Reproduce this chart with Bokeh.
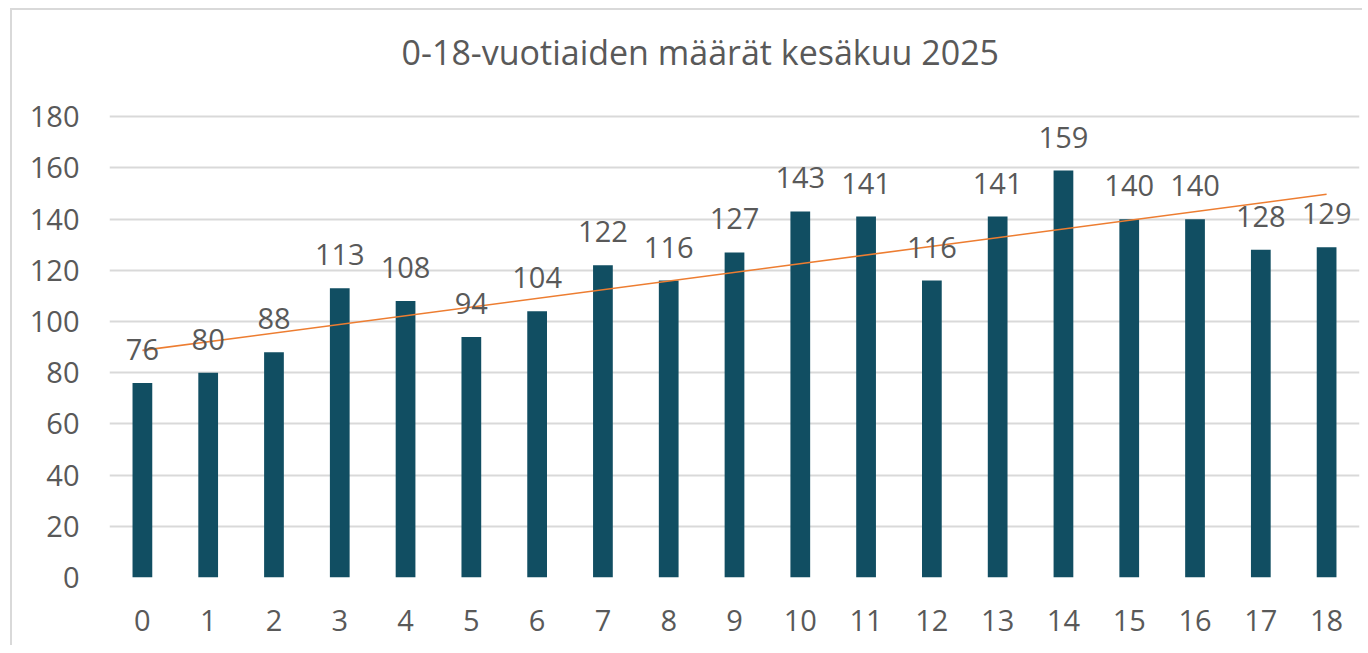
import numpy as np
from bokeh.plotting import figure
from bokeh.models import ColumnDataSource, FixedTicker, Range1d, Label
from bokeh.core.properties import value
from bokeh.embed import file_html
from bokeh.resources import INLINE

ages = list(range(19))
age_labels = [str(a) for a in ages]
counts = [76, 80, 88, 113, 108, 94, 104, 122, 116, 127, 143, 141, 116, 141, 159, 140, 140, 128, 129]
y_ticks = [0, 20, 40, 60, 80, 100, 120, 140, 160, 180]
title_text = "0-18-vuotiaiden määrät kesäkuu 2025"

FONT = "Open Sans"
TXT = "#595959"

# y range extends above the top gridline to leave room for the title inside the frame
p = figure(width=1352, height=637, output_backend="svg", toolbar_location=None,
           x_range=Range1d(-0.5, 18.5), y_range=Range1d(0, 218),
           min_border_left=97, min_border_right=5, min_border_top=9, min_border_bottom=70)
p.styles = {"margin-left": "10px", "margin-top": "8px",
            "border-left": "2px solid #d9d9d9", "border-top": "2px solid #d9d9d9"}
p.outline_line_color = None
p.background_fill_color = "white"

src = ColumnDataSource(dict(x=ages, y=counts, lbl=[str(c) for c in counts]))
p.vbar(x="x", top="y", width=0.3, source=src, fill_color="#114E62", line_color=None)

slope, intercept = np.polyfit(ages, counts, 1)
p.line([ages[0], ages[-1]], [intercept + slope * ages[0], intercept + slope * ages[-1]],
       line_color="#ED7D31", line_width=1.6)

p.text(x="x", y="y", text="lbl", source=src, text_align="center", text_baseline="bottom",
       y_offset=-23, text_font=value(FONT), text_font_size="29px", text_color=TXT)

title = Label(x=8.48, y=y_ticks[-1], text=title_text, text_align="center", text_baseline="middle",
              y_offset=65, text_font=FONT, text_font_size="34px", text_color=TXT)
p.add_layout(title)

p.xaxis.ticker = FixedTicker(ticks=ages)
p.xaxis.major_label_overrides = {a: l for a, l in zip(ages, age_labels)}
p.yaxis.ticker = FixedTicker(ticks=y_ticks)
for ax in (p.xaxis, p.yaxis):
    ax.axis_line_color = None
    ax.major_tick_line_color = None
    ax.minor_tick_line_color = None
    ax.major_label_text_font = FONT
    ax.major_label_text_font_size = "29px"
    ax.major_label_text_color = TXT
p.xaxis.major_label_standoff = 26
p.yaxis.major_label_standoff = 24

p.xgrid.grid_line_color = None
p.ygrid.grid_line_color = "#d9d9d9"
p.ygrid.grid_line_width = 2
p.ygrid.ticker = FixedTicker(ticks=y_ticks)

open("out.html", "w").write(file_html(p, INLINE))
